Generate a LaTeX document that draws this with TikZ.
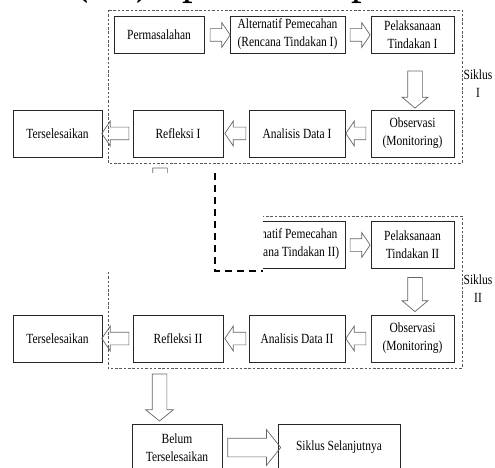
\documentclass[tikz,border=0pt]{standalone}
\usepackage{fontspec}
\setmainfont{Liberation Serif}[FakeStretch=0.82]
\usetikzlibrary{shapes.arrows,calc}
\begin{document}
\begin{tikzpicture}[x=1pt,y=-1pt,
  box/.style={draw=black!85, line width=0.75pt, inner sep=0pt, align=center,
    font=\fontsize{14pt}{18pt}\selectfont},
  bxA/.style={box, minimum width=#1, minimum height=37pt},
  bxB/.style={box, minimum width=#1, minimum height=47pt},
  blkarrow/.style={single arrow, draw=black!60, line width=0.7pt, inner xsep=0pt,
    minimum height=#1},
  smallarr/.style={blkarrow=#1, inner ysep=6pt, single arrow head extend=6pt, single arrow tip angle=112},
  downarr/.style={blkarrow=#1, rotate=-90, inner ysep=7pt, single arrow head extend=5.5pt, single arrow tip angle=100},
  bigdown/.style={blkarrow=#1, rotate=-90, inner ysep=7pt, single arrow head extend=6.5pt, single arrow tip angle=102},
  bigright/.style={blkarrow=#1, inner ysep=9pt, single arrow head extend=8.5pt, single arrow tip angle=103},
  dashbox/.style={draw=black!65, line width=0.6pt, dash pattern=on 2.5pt off 1.8pt},
  lbl/.style={align=center, inner sep=0pt, font=\fontsize{14pt}{18pt}\selectfont},
  frag/.style={inner sep=0pt, anchor=base west, font=\fontsize{52pt}{60pt}\selectfont}
]
\useasboundingbox (0,0) rectangle (495,468);

% fragments of the clipped heading
\begin{scope}
\clip (0,0) rectangle (495,20);
\node[frag] (f1) at (74,-7) {(};
\node[frag] (f2) at (136,-7) {)};
\node[frag] (f3) at (182,-7) {p};
\node[frag] (f4) at (351,-7) {p};
\end{scope}

% dashed cycle frames
\draw[dashbox] (108,10) rectangle (462,163);
\draw[dashbox] (108,216) rectangle (462,368);

% cycle I
\node[bxA=90pt] (perm) at (159,34.5) {Permasalahan};
\node[bxA=115pt] (alt1) at (287.5,34.5) {Alternatif Pemecahan\\(Rencana Tindakan I)};
\node[bxA=83pt] (pel1) at (412.5,34.5) {Pelaksanaan\\Tindakan I};
\node[bxB=89pt] (ter1) at (57.5,133.5) {Terselesaikan};
\node[bxB=90pt] (ref1) at (178,133.5) {Refleksi I};
\node[bxB=96pt] (ana1) at (297,133.5) {Analisis Data I};
\node[bxB=83pt] (obs1) at (412.5,133.5) {Observasi\\(Monitoring)};

\node[smallarr=20pt] (a1) at ($(perm.east)!0.5!(alt1.west)+(1,0.5)$) {};
\node[smallarr=20pt] (a2) at ($(alt1.east)!0.5!(pel1.west)+(0,0.5)$) {};
\node[downarr=37pt] (a3) at ($(pel1.south)!0.5!(obs1.north)+(2.5,5)$) {};
\node[smallarr=20pt, rotate=180] (a4) at ($(obs1.west)!0.5!(ana1.east)+(0,0)$) {};
\node[smallarr=21pt, rotate=180] (a5) at ($(ana1.west)!0.5!(ref1.east)+(1.5,0)$) {};
\node[smallarr=27pt, rotate=180] (a6) at ($(ref1.west)!0.5!(ter1.east)$) {};
\node[bigdown=47pt] (a7) at (160,188.5) {};

\node[lbl] (sik1) at (478,84) {Siklus\\I};

% cycle II
\node[bxB=115pt] (alt2) at (287.5,244.5) {Alternatif Pemecahan\\(Rencana Tindakan II)};
\node[bxB=83pt] (pel2) at (412.5,244.5) {Pelaksanaan\\Tindakan II};
\node[bxB=89pt] (ter2) at (57.5,338.5) {Terselesaikan};
\node[bxB=90pt] (ref2) at (178,338.5) {Refleksi II};
\node[bxB=96pt] (ana2) at (297,338.5) {Analisis Data II};
\node[bxB=83pt] (obs2) at (412.5,338.5) {Observasi\\(Monitoring)};

\node[smallarr=20pt] (b2) at ($(alt2.east)!0.5!(pel2.west)+(0,0.5)$) {};
\node[downarr=34pt] (b3) at ($(pel2.south)!0.5!(obs2.north)+(2.5,0)$) {};
\node[smallarr=20pt, rotate=180] (b4) at ($(obs2.west)!0.5!(ana2.east)$) {};
\node[smallarr=21pt, rotate=180] (b5) at ($(ana2.west)!0.5!(ref2.east)+(1.5,0)$) {};
\node[smallarr=27pt, rotate=180] (b6) at ($(ref2.west)!0.5!(ter2.east)$) {};

\node[lbl] (sik2) at (478,289) {Siklus\\II};

% after cycle II
\node[bxB=90pt] (belum) at (177,447.5) {Belum\\Terselesaikan};
\node[bxB=122pt] (next) at (339,447.5) {Siklus Selanjutnya};
\node[bigdown=47pt] (b7) at ($(ref2.south)!0.5!(belum.north)+(-18,1.5)$) {};
\node[bigright=53pt] (b8) at ($(belum.east)!0.5!(next.west)+(0.5,0)$) {};

% occluding region and its thick dashed border
\fill[white] (0,173) rectangle (263,271);
\coordinate (o1) at (215,173);
\coordinate (o2) at (215,271);
\coordinate (o3) at (263,271);
\draw[black, line width=1.8pt, dash pattern=on 7pt off 5pt] (o1) -- (o2) -- (o3);
\end{tikzpicture}
\end{document}
